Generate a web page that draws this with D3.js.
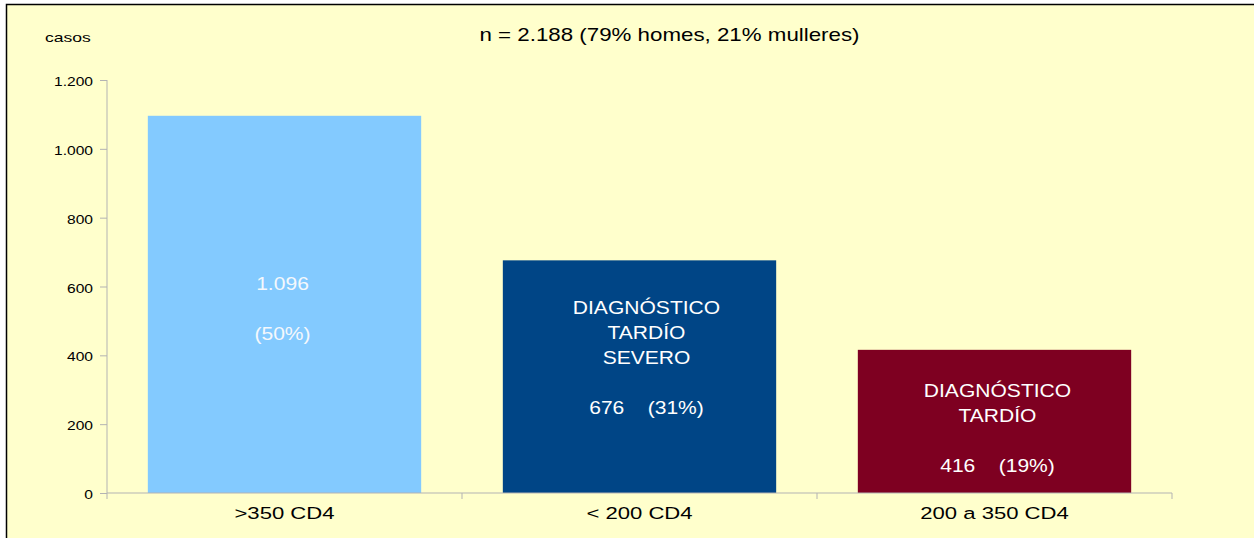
<!DOCTYPE html>
<html><head><meta charset="utf-8">
<script src="https://cdn.jsdelivr.net/npm/d3@7"></script>
<style>html,body{margin:0;padding:0;background:#fff;}svg{display:block;font-family:"Liberation Sans",Arial,sans-serif;}</style>
</head><body>
<svg id="c" width="1254" height="538"></svg>
<script>
const categories = [">350 CD4", "< 200 CD4", "200 a 350 CD4"];
const values = [1096, 676, 416];
const barLabels = [
  ["1.096", "", "(50%)"],
  ["DIAGNÓSTICO", "TARDÍO", "SEVERO", "", "676    (31%)"],
  ["DIAGNÓSTICO", "TARDÍO", "", "416    (19%)"]
];
const colors = ["#83CAFF", "#004586", "#7E0021"];
const yTicks = [0, 200, 400, 600, 800, 1000, 1200];
const title = "n = 2.188 (79% homes, 21% mulleres)";
const yTitle = "casos";

const svg = d3.select("#c");
svg.append("rect").attr("x", 6.5).attr("y", 4.5).attr("width", 1260).attr("height", 560)
  .attr("fill", "#FFFFCC").attr("stroke", "#000").attr("stroke-width", 1.5);

const x = d3.scaleBand().domain(categories).range([107, 1172]).paddingInner(0.23).paddingOuter(0.115);
const xc = d3.scaleBand().domain(categories).range([107, 1172]);
const y = d3.scaleLinear().domain([0, 1200]).range([493, 80]);

const fmt = v => d3.format(",")(v).replace(/,/g, ".");

function stext(g, tx, ty, str, size, sx, anchor, fill) {
  return g.append("text")
    .attr("transform", `translate(${tx},${ty}) scale(${sx},1)`)
    .attr("text-anchor", anchor).attr("font-size", size).attr("fill", fill)
    .style("white-space", "pre").text(str);
}

// y axis
const ya = svg.append("g").attr("transform", "translate(107,0)")
  .call(d3.axisLeft(y).tickValues(yTicks).tickFormat(fmt).tickSize(7));
ya.select(".domain").attr("stroke", "#b3b3b3").attr("d", "M0," + y(1200) + "V" + y(0));
ya.selectAll(".tick line").attr("stroke", "#b3b3b3");
ya.selectAll(".tick text").remove();
ya.selectAll(".tick").each(function(d) {
  stext(d3.select(this), -14, 5.5, fmt(d), 12, 1.3, "end", "#000");
});

// bars
svg.selectAll("rect.bar").data(values).enter().append("rect").attr("class", "bar")
  .attr("x", (d, i) => x(categories[i])).attr("width", x.bandwidth())
  .attr("y", d => y(d)).attr("height", d => y(0) - y(d))
  .attr("fill", (d, i) => colors[i]);

// x axis
const xa = svg.append("g").attr("transform", "translate(0,493)");
xa.append("path").attr("d", "M107,0H1172").attr("stroke", "#b3b3b3").attr("fill", "none");
const bounds = [107].concat(categories.map(c => xc(c) + xc.bandwidth()));
xa.selectAll("line.t").data(bounds).enter().append("line").attr("class", "t")
  .attr("x1", d => d).attr("x2", d => d).attr("y1", 0).attr("y2", 6).attr("stroke", "#b3b3b3");
categories.forEach(c => stext(xa, xc(c) + xc.bandwidth() / 2, 25.5, c, 17, 1.3, "middle", "#000"));

// bar labels
const labelTop = [283, 307, 390];
const labelDx = [-2, 7, 3];
barLabels.forEach((lines, i) => {
  const cx = x(categories[i]) + x.bandwidth() / 2 + labelDx[i];
  lines.forEach((t, j) => {
    if (!t) return;
    stext(svg, cx, labelTop[i] + j * 25 + 7, t, 18, 1.17, "middle", i === 0 ? "#f4f8fc" : "#fff");
  });
});

stext(svg, 669.5, 41, title, 18, 1.24, "middle", "#000");
stext(svg, 45, 42, yTitle, 13, 1.35, "start", "#000");
</script>
</body></html>
